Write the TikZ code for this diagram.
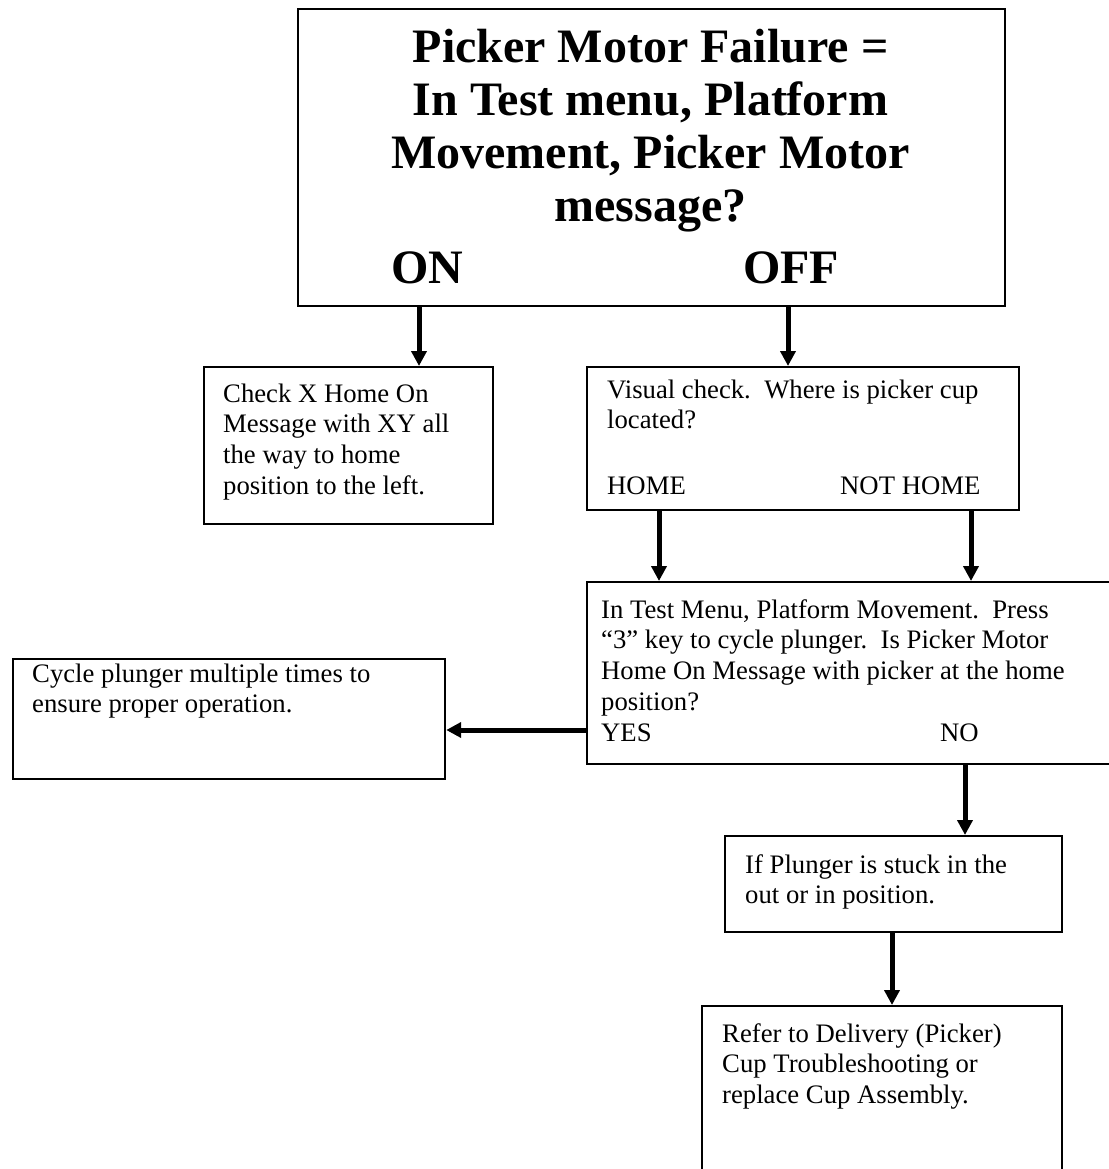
\documentclass[tikz,border=0pt]{standalone}
\usepackage{fontspec}
\setmainfont{Liberation Serif}
\usetikzlibrary{arrows.meta}
\tikzset{
  box/.style={draw=black, line width=2.2pt, rectangle, inner sep=0pt, anchor=north west},
  body/.style={font=\fontsize{26.7}{30.7}\selectfont, inner sep=0pt, align=left, anchor=north west},
  lbl/.style={font=\fontsize{26.7}{30.7}\selectfont, inner sep=0pt, anchor=base west},
  ttl/.style={font=\fontsize{48}{53}\selectfont\bfseries, inner sep=0pt, align=center, anchor=north},
  big/.style={font=\fontsize{48}{53}\selectfont\bfseries, inner sep=0pt, anchor=base west},
  arr/.style={line width=5pt, -{Triangle[width=15pt,length=15pt]}}
}
\begin{document}
\begin{tikzpicture}[x=1pt, y=-1pt]
\useasboundingbox (0,0) rectangle (1108,1169);
\fill[white] (0,0) rectangle (1108,1169);

% boxes
\node[box, minimum width=707pt, minimum height=297pt] (T) at (297,8) {};
\node[box, minimum width=289pt, minimum height=157pt] (A) at (203,366) {};
\node[box, minimum width=432pt, minimum height=143pt] (B) at (586,366) {};
\node[box, minimum width=529pt, minimum height=182pt] (C) at (586,581) {};
\node[box, minimum width=432pt, minimum height=120pt] (D) at (12,658) {};
\node[box, minimum width=337pt, minimum height=96pt] (E) at (724,835) {};
\node[box, minimum width=360pt, minimum height=185pt] (F) at (701,1005) {};

% title text
\node[ttl] (Ttext) at (650.5,24.9) {\strut Picker Motor Failure =\\In Test menu, Platform\\Movement, Picker Motor\\message?};
\node[big] (on) at (391,283) {ON};
\node[big] (off) at (743,283) {OFF};

% box texts
\node[body] (Atext) at (223,380.5) {\strut Check X Home On\\Message with XY all\\the way to home\\position to the left.};
\node[body] (Btext) at (607,376.5) {\strut Visual check.\ \ Where is picker cup\\located?};
\node[lbl] (home) at (607,494) {HOME};
\node[lbl] (nothome) at (840,494) {NOT HOME};
\node[body] (Ctext) at (601,596.5) {\strut In Test Menu, Platform Movement.\ \ Press\\“3” key to cycle plunger.\ \ Is Picker Motor\\Home On Message with picker at the home\\position?};
\node[lbl] (yes) at (601,741) {YES};
\node[lbl] (no) at (940,741) {NO};
\node[body] (Dtext) at (32,660.5) {\strut Cycle plunger multiple times to\\ensure proper operation.};
\node[body] (Etext) at (745,851.5) {\strut If Plunger is stuck in the\\out or in position.};
\node[body] (Ftext) at (722,1020.5) {\strut Refer to Delivery (Picker)\\Cup Troubleshooting or\\replace Cup Assembly.};

% connectors
\draw[arr] (419,0 |- T.south) -- (419,0 |- A.north);
\draw[arr] (788,0 |- T.south) -- (788,0 |- B.north);
\draw[arr] (659,0 |- B.south) -- (659,0 |- C.north);
\draw[arr] (971,0 |- B.south) -- (971,0 |- C.north);
\draw[arr] (C.west |- 0,730) -- (D.east |- 0,730);
\draw[arr] (965,0 |- C.south) -- (965,0 |- E.north);
\draw[arr] (892,0 |- E.south) -- (892,0 |- F.north);
\end{tikzpicture}
\end{document}
